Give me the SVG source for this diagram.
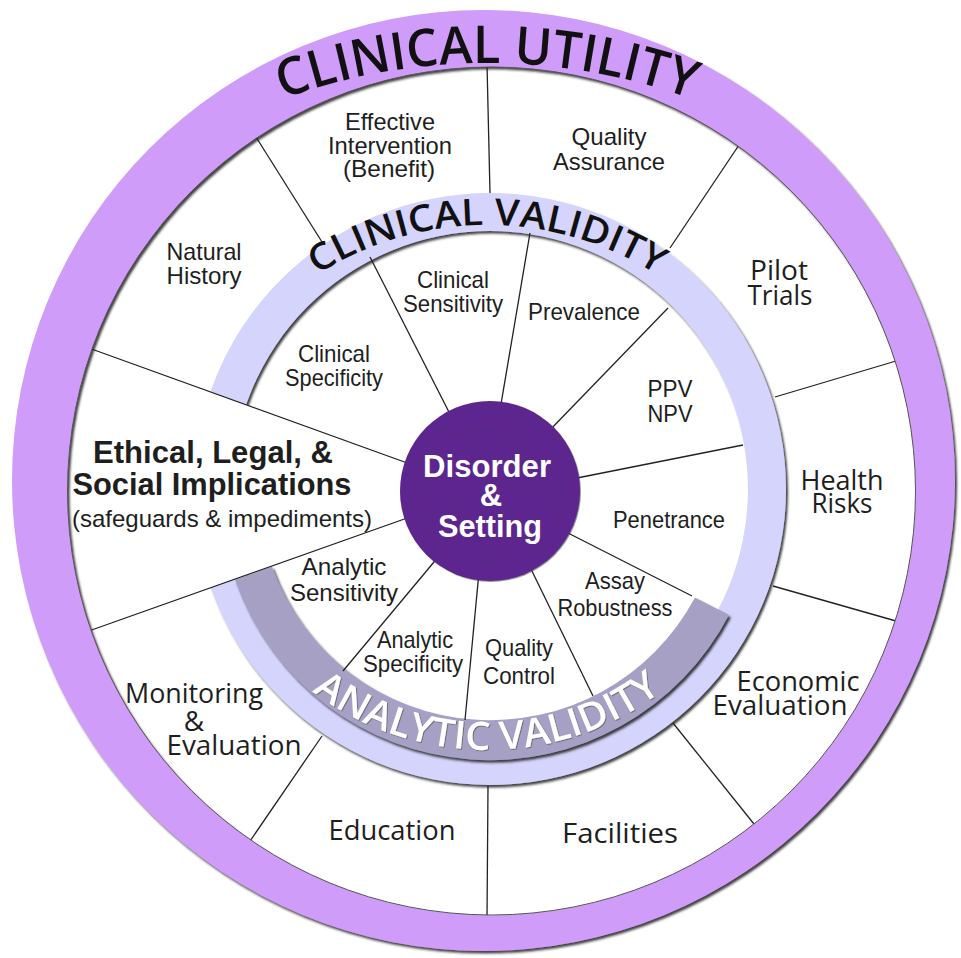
<svg xmlns="http://www.w3.org/2000/svg" width="961" height="958" viewBox="0 0 961 958">
<defs>
  <filter id="sh" x="-5%" y="-5%" width="110%" height="110%">
    <feDropShadow dx="2" dy="2.5" stdDeviation="1.3" flood-color="#1a1a1a" flood-opacity="0.85"/>
  </filter>
  <filter id="tsh" x="-5%" y="-5%" width="110%" height="110%">
    <feDropShadow dx="0.8" dy="0.8" stdDeviation="0.6" flood-color="#333" flood-opacity="0.6"/>
  </filter>
  <path id="arcCU" d="M 27.4,277.3 A 600 600 0 0 1 946.6,277.3"/>
  <path id="arcCV" d="M 214.2,382.5 A 315 315 0 0 1 759.8,382.5"/>
  <path id="arcAV" d="M 235.9,605 A 290 290 0 0 0 738.1,605"/>
</defs>
<style>
  .lbl { font-family: "Liberation Sans", Arial, sans-serif; font-size: 24px; fill: #1e1e1e; text-anchor: middle; }
  .bold { font-weight: bold; font-size: 32px; }
  .hum { font-family: "Open Sans", "DejaVu Sans", sans-serif; font-size: 28px; fill: #1e1e1e; text-anchor: middle; }
  .title { font-family: "Open Sans", "DejaVu Sans", sans-serif; font-weight: 600; fill: #111; }
  .ctr { font-family: "Liberation Sans", Arial, sans-serif; font-weight: bold; font-size: 31px; fill: #ffffff; text-anchor: middle; }
  .conn line { stroke: #222; stroke-width: 1.3; }
</style>
<rect x="0" y="0" width="961" height="958" fill="#ffffff"/>

<g id="rings">
  <path id="clinical-validity-ring" filter="url(#sh)" fill="#d4d4fc" fill-rule="evenodd"
        d="M 194,489 a 296 296 0 1 0 592 0 a 296 296 0 1 0 -592 0 Z M 232,489 a 258 258 0 1 0 516 0 a 258 258 0 1 0 -516 0 Z"/>
  <path id="analytic-validity-ring" filter="url(#sh)" fill="#a5a0c4"
        d="M 235,580 A 270 270 0 0 0 729,615 L 695,597.5 A 232 232 0 0 1 272,566.5 Z"/>
  <polygon id="elsi-sector" fill="#ffffff" points="60,337 90,348 405,462 400,521 90,631 60,642"/>
</g>

<g id="connectors" class="conn">
  <line x1="487" y1="64" x2="490" y2="193"/>
  <line x1="256" y1="137" x2="322" y2="242"/>
  <line x1="739" y1="145" x2="670" y2="248"/>
  <line x1="775" y1="397" x2="896" y2="361"/>
  <line x1="773" y1="586" x2="896" y2="621"/>
  <line x1="673" y1="723" x2="754" y2="824"/>
  <line x1="488" y1="786" x2="487" y2="918"/>
  <line x1="322" y1="736" x2="248" y2="844"/>
  <line x1="86" y1="632" x2="410" y2="517"/>
  <line x1="86" y1="347" x2="410" y2="464"/>
  <line x1="370" y1="257" x2="452" y2="418"/>
  <line x1="530" y1="233" x2="500" y2="410"/>
  <line x1="668" y1="308" x2="548" y2="432"/>
  <line x1="743" y1="445" x2="572" y2="479"/>
  <line x1="566" y1="532" x2="692" y2="596"/>
  <line x1="529" y1="565" x2="593" y2="696"/>
  <line x1="479" y1="572" x2="465" y2="720"/>
  <line x1="439" y1="556" x2="343" y2="671"/>
</g>

<g id="clinical-utility-ring">
  <path filter="url(#sh)" fill="#d09cfa" fill-rule="evenodd"
        d="M 12,480.5 a 471.5 470.5 0 1 0 943 0 a 471.5 470.5 0 1 0 -943 0 Z M 67.5,491 a 424 424 0 1 0 848 0 a 424 424 0 1 0 -848 0 Z"/>
  <circle cx="491.5" cy="491" r="424" fill="none" stroke="#555" stroke-width="1"/>
</g>

<g id="disorder-setting">
  <circle cx="490" cy="491" r="90" fill="#5c288e" filter="url(#tsh)"/>
  <text class="ctr" x="487" y="477" textLength="128" lengthAdjust="spacingAndGlyphs">Disorder</text>
  <text class="ctr" x="491" y="506">&amp;</text>
  <text class="ctr" x="490" y="537" textLength="104" lengthAdjust="spacingAndGlyphs">Setting</text>
</g>

<g id="titles">
  <text class="title" font-size="52"><textPath href="#arcCU" startOffset="50%" text-anchor="middle" textLength="417" lengthAdjust="spacingAndGlyphs">CLINICAL UTILITY</textPath></text>
  <text class="title" font-size="37"><textPath href="#arcCV" startOffset="50%" text-anchor="middle" textLength="359" lengthAdjust="spacingAndGlyphs">CLINICAL VALIDITY</textPath></text>
  <text class="title" font-size="39" fill="#ffffff" style="fill:#ffffff" filter="url(#tsh)"><textPath href="#arcAV" startOffset="50%" text-anchor="middle" textLength="375" lengthAdjust="spacingAndGlyphs">ANALYTIC VALIDITY</textPath></text>
</g>

<g id="effective-intervention">
  <text class="lbl" x="390" y="130" textLength="90" lengthAdjust="spacingAndGlyphs">Effective</text>
  <text class="lbl" x="390" y="154" textLength="124" lengthAdjust="spacingAndGlyphs">Intervention</text>
  <text class="lbl" x="389" y="177" textLength="92" lengthAdjust="spacingAndGlyphs">(Benefit)</text>
</g>
<g id="quality-assurance">
  <text class="lbl" x="609" y="145" textLength="75" lengthAdjust="spacingAndGlyphs">Quality</text>
  <text class="lbl" x="609" y="170" textLength="112" lengthAdjust="spacingAndGlyphs">Assurance</text>
</g>
<g id="pilot-trials">
  <text class="hum" x="779" y="280" font-size="29" textLength="58" lengthAdjust="spacingAndGlyphs">Pilot</text>
  <text class="hum" x="780" y="305" font-size="29" textLength="65" lengthAdjust="spacingAndGlyphs">Trials</text>
</g>
<g id="health-risks">
  <text class="hum" x="842" y="490" font-size="29" textLength="83" lengthAdjust="spacingAndGlyphs">Health</text>
  <text class="hum" x="842" y="513" font-size="29" textLength="61" lengthAdjust="spacingAndGlyphs">Risks</text>
</g>
<g id="economic-evaluation">
  <text class="hum" x="798" y="691" textLength="123" lengthAdjust="spacingAndGlyphs">Economic</text>
  <text class="hum" x="780" y="715" textLength="135" lengthAdjust="spacingAndGlyphs">Evaluation</text>
</g>
<g id="facilities">
  <text class="hum" x="620" y="843" textLength="116" lengthAdjust="spacingAndGlyphs">Facilities</text>
</g>
<g id="education">
  <text class="hum" x="392" y="840" textLength="127" lengthAdjust="spacingAndGlyphs">Education</text>
</g>
<g id="monitoring-evaluation">
  <text class="hum" x="194" y="703" textLength="138" lengthAdjust="spacingAndGlyphs">Monitoring</text>
  <text class="hum" x="194" y="731" font-size="24">&amp;</text>
  <text class="hum" x="234" y="755" textLength="135" lengthAdjust="spacingAndGlyphs">Evaluation</text>
</g>
<g id="elsi">
  <text class="lbl bold" x="213" y="463" textLength="240" lengthAdjust="spacingAndGlyphs">Ethical, Legal, &amp;</text>
  <text class="lbl bold" x="212" y="495" textLength="279" lengthAdjust="spacingAndGlyphs">Social Implications</text>
  <text class="lbl" x="222" y="527" textLength="300" lengthAdjust="spacingAndGlyphs">(safeguards &amp; impediments)</text>
</g>
<g id="natural-history">
  <text class="lbl" x="204" y="260" textLength="75" lengthAdjust="spacingAndGlyphs">Natural</text>
  <text class="lbl" x="204" y="284" textLength="75" lengthAdjust="spacingAndGlyphs">History</text>
</g>
<g id="clinical-sensitivity">
  <text class="lbl" x="453" y="288" textLength="72" lengthAdjust="spacingAndGlyphs">Clinical</text>
  <text class="lbl" x="453" y="312" textLength="100" lengthAdjust="spacingAndGlyphs">Sensitivity</text>
</g>
<g id="prevalence">
  <text class="lbl" x="584" y="320" textLength="112" lengthAdjust="spacingAndGlyphs">Prevalence</text>
</g>
<g id="ppv-npv">
  <text class="lbl" x="670" y="397" textLength="45" lengthAdjust="spacingAndGlyphs">PPV</text>
  <text class="lbl" x="670" y="422" textLength="45" lengthAdjust="spacingAndGlyphs">NPV</text>
</g>
<g id="clinical-specificity">
  <text class="lbl" x="334" y="362" textLength="72" lengthAdjust="spacingAndGlyphs">Clinical</text>
  <text class="lbl" x="334" y="386" textLength="98" lengthAdjust="spacingAndGlyphs">Specificity</text>
</g>
<g id="penetrance">
  <text class="lbl" x="669" y="528" textLength="112" lengthAdjust="spacingAndGlyphs">Penetrance</text>
</g>
<g id="assay-robustness">
  <text class="lbl" x="615" y="589" textLength="60" lengthAdjust="spacingAndGlyphs">Assay</text>
  <text class="lbl" x="615" y="616" textLength="115" lengthAdjust="spacingAndGlyphs">Robustness</text>
</g>
<g id="quality-control">
  <text class="lbl" x="519" y="656" textLength="68" lengthAdjust="spacingAndGlyphs">Quality</text>
  <text class="lbl" x="519" y="684" textLength="72" lengthAdjust="spacingAndGlyphs">Control</text>
</g>
<g id="analytic-specificity">
  <text class="lbl" x="415" y="648" textLength="76" lengthAdjust="spacingAndGlyphs">Analytic</text>
  <text class="lbl" x="413" y="672" textLength="100" lengthAdjust="spacingAndGlyphs">Specificity</text>
</g>
<g id="analytic-sensitivity">
  <text class="lbl" x="344" y="575" textLength="85" lengthAdjust="spacingAndGlyphs">Analytic</text>
  <text class="lbl" x="344" y="601" textLength="108" lengthAdjust="spacingAndGlyphs">Sensitivity</text>
</g>
</svg>
